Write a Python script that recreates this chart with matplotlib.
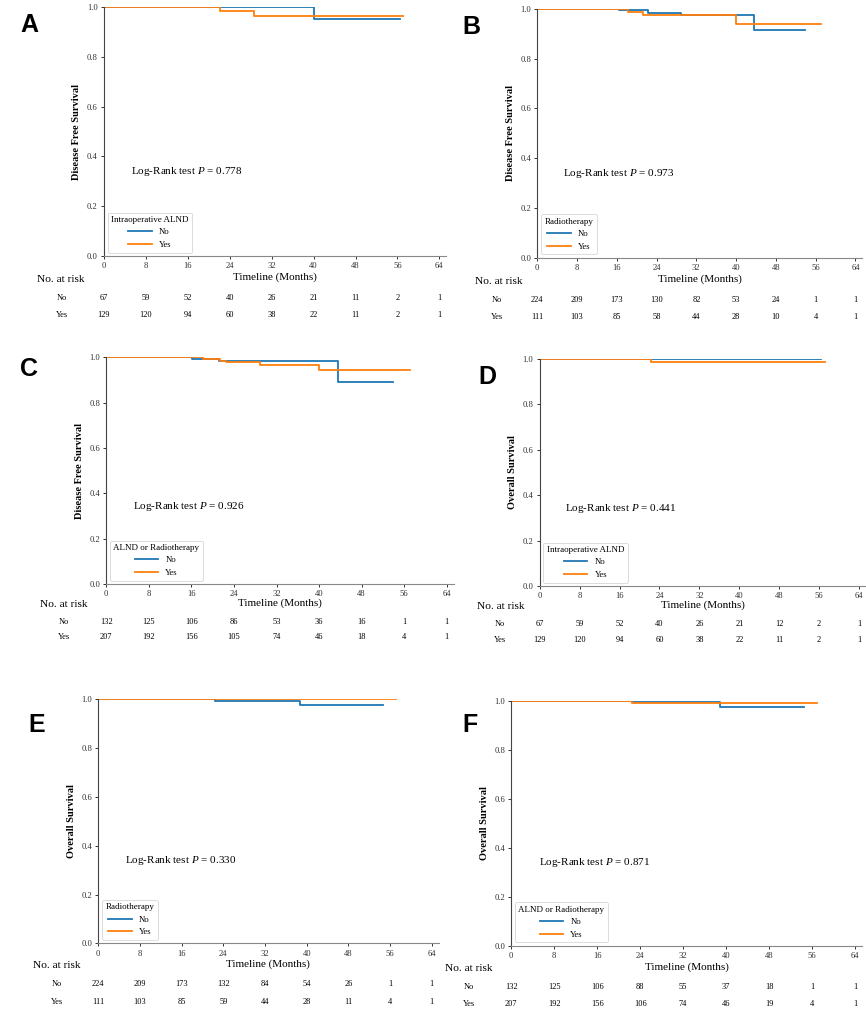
import matplotlib
matplotlib.use("Agg")
import matplotlib.pyplot as plt
from matplotlib.transforms import blended_transform_factory

plt.rcParams['font.family'] = 'Liberation Serif'
plt.rcParams['mathtext.fontset'] = 'custom'
plt.rcParams['mathtext.rm'] = 'Liberation Serif'
plt.rcParams['mathtext.it'] = 'Liberation Serif:italic'

# ---- data (months, survival probability) ----
ticks = [0, 8, 16, 24, 32, 40, 48, 56, 64]
groups = ["No", "Yes"]

A_no_t = [0, 40.0, 56.5]
A_no_s = [1.0, 0.950, 0.950]
A_yes_t = [0, 22.2, 28.7, 57.0]
A_yes_s = [1.0, 0.982, 0.965, 0.965]
A_risk_no = [67, 59, 52, 40, 26, 21, 11, 2, 1]
A_risk_yes = [129, 120, 94, 60, 38, 22, 11, 2, 1]

B_no_t = [0, 16.4, 22.3, 28.9, 43.6, 53.9]
B_no_s = [1.0, 0.995, 0.982, 0.975, 0.914, 0.914]
B_yes_t = [0, 18.2, 21.3, 39.9, 57.1]
B_yes_s = [1.0, 0.989, 0.975, 0.938, 0.938]
B_risk_no = [224, 209, 173, 130, 82, 53, 24, 1, 1]
B_risk_yes = [111, 103, 85, 58, 44, 28, 10, 4, 1]

C_no_t = [0, 16.2, 21.2, 43.6, 53.9]
C_no_s = [1.0, 0.993, 0.982, 0.893, 0.893]
C_yes_t = [0, 18.2, 21.4, 22.5, 28.9, 40.0, 57.1]
C_yes_s = [1.0, 0.994, 0.985, 0.978, 0.966, 0.944, 0.944]
C_risk_no = [132, 125, 106, 86, 53, 36, 16, 1, 1]
C_risk_yes = [207, 192, 156, 105, 74, 46, 18, 4, 1]

D_no_t = [0, 56.4]
D_no_s = [1.0, 1.0]
D_yes_t = [0, 22.4, 57.1]
D_yes_s = [1.0, 0.985, 0.985]
D_risk_no = [67, 59, 52, 40, 26, 21, 12, 2, 1]
D_risk_yes = [129, 120, 94, 60, 38, 22, 11, 2, 1]

E_no_t = [0, 22.4, 38.7, 54.6]
E_no_s = [1.0, 0.995, 0.978, 0.978]
E_yes_t = [0, 57.1]
E_yes_s = [1.0, 1.0]
E_risk_no = [224, 209, 173, 132, 84, 54, 26, 1, 1]
E_risk_yes = [111, 103, 85, 59, 44, 28, 11, 4, 1]

F_no_t = [0, 22.5, 38.8, 54.5]
F_no_s = [1.0, 0.995, 0.974, 0.974]
F_yes_t = [0, 22.5, 57.0]
F_yes_s = [1.0, 0.992, 0.992]
F_risk_no = [132, 125, 106, 88, 55, 37, 18, 1, 1]
F_risk_yes = [207, 192, 156, 106, 74, 46, 19, 4, 1]

W, H = 866, 1015
XMAX = 65.3
fig = plt.figure(figsize=(W / 100, H / 100), dpi=100)


def fy(py):
    return 1 - py / H


def draw_panel(letter, no_t, no_s, yes_t, yes_s, risk_no, risk_yes, ylabel,
               legend_title, pval, left, top, bottom, scale, letter_xy,
               xlabel_y, header_xy, row_x, row_ys):
    right = left + XMAX * scale
    ax = fig.add_axes([left / W, fy(bottom), (right - left) / W, (bottom - top) / H])
    ax.plot(no_t, no_s, drawstyle='steps-post', color='#1f77b4', lw=1.3, label=groups[0])
    ax.plot(yes_t, yes_s, drawstyle='steps-post', color='#ff7f0e', lw=1.3, label=groups[1])
    ax.set_xlim(0, XMAX)
    ax.set_ylim(0, 1.0)
    ax.set_xticks(ticks)
    ax.set_yticks([0, 0.2, 0.4, 0.6, 0.8, 1.0])
    ax.set_yticklabels(['0.0', '0.2', '0.4', '0.6', '0.8', '1.0'])
    ax.tick_params(labelsize=6.2, length=2.5, width=0.7, pad=2, colors='#333')
    for s in ['top', 'right']:
        ax.spines[s].set_visible(False)
    ax.spines['left'].set_color('#444')
    ax.spines['bottom'].set_color('#888')
    ax.set_ylabel(ylabel, fontsize=7.5, fontweight='bold', labelpad=4)
    ax.text(5.1, 0.33, 'Log-Rank test $P$ = ' + pval, fontsize=8)
    leg = ax.legend(title=legend_title, loc='lower left', fontsize=6.3,
                    title_fontsize=6.5, handlelength=2.7, borderaxespad=0.4)
    leg.get_frame().set_linewidth(0.6)

    fig.text(letter_xy[0] / W, fy(letter_xy[1]), letter, family='Liberation Sans',
             fontweight='bold', fontsize=18, ha='center', va='center')
    fig.text((left + right) / 2 / W, fy(xlabel_y), 'Timeline (Months)', fontsize=8,
             ha='center', va='center')

    # number at risk table
    fig.text(header_xy[0] / W, fy(header_xy[1]), 'No. at risk', fontsize=8.2,
             ha='left', va='center')
    tr = blended_transform_factory(ax.transData, fig.transFigure)
    for name, vals, py in zip(groups, [risk_no, risk_yes], row_ys):
        fig.text(row_x / W, fy(py), name, fontsize=6, ha='center', va='center')
        for t, v in zip(ticks, vals):
            fig.text(t, fy(py), str(v), fontsize=6, ha='center', va='center',
                     transform=tr)
    return ax


draw_panel('A', A_no_t, A_no_s, A_yes_t, A_yes_s, A_risk_no, A_risk_yes,
           'Disease Free Survival', 'Intraoperative ALND', '0.778',
           104, 7, 256, 5.24, (29, 25), 277, (37, 279), 62, (298, 315))
draw_panel('B', B_no_t, B_no_s, B_yes_t, B_yes_s, B_risk_no, B_risk_yes,
           'Disease Free Survival', 'Radiotherapy', '0.973',
           537.3, 9, 257.7, 4.97, (471, 27), 279, (474.7, 281), 497, (300, 316.7))
draw_panel('C', C_no_t, C_no_s, C_yes_t, C_yes_s, C_risk_no, C_risk_yes,
           'Disease Free Survival', 'ALND or Radiotherapy', '0.926',
           106.3, 357.3, 584, 5.32, (29, 369), 603.3, (39.7, 604.7), 64, (622, 637.3))
draw_panel('D', D_no_t, D_no_s, D_yes_t, D_yes_s, D_risk_no, D_risk_yes,
           'Overall Survival', 'Intraoperative ALND', '0.441',
           539.7, 359, 586, 4.99, (487, 376.7), 605.3, (477.3, 606.7), 499.7, (624, 640))
draw_panel('E', E_no_t, E_no_s, E_yes_t, E_yes_s, E_risk_no, E_risk_yes,
           'Overall Survival', 'Radiotherapy', '0.330',
           98.3, 699.3, 943.3, 5.21, (36.7, 725), 964.3, (32.7, 966), 56.7, (984.3, 1001.7))
draw_panel('F', F_no_t, F_no_s, F_yes_t, F_yes_s, F_risk_no, F_risk_yes,
           'Overall Survival', 'ALND or Radiotherapy', '0.871',
           511.3, 701, 945.7, 5.37, (469.7, 725), 966.7, (444.7, 968.3), 468.7, (986.7, 1004))

fig.savefig('out.png', dpi=100)
